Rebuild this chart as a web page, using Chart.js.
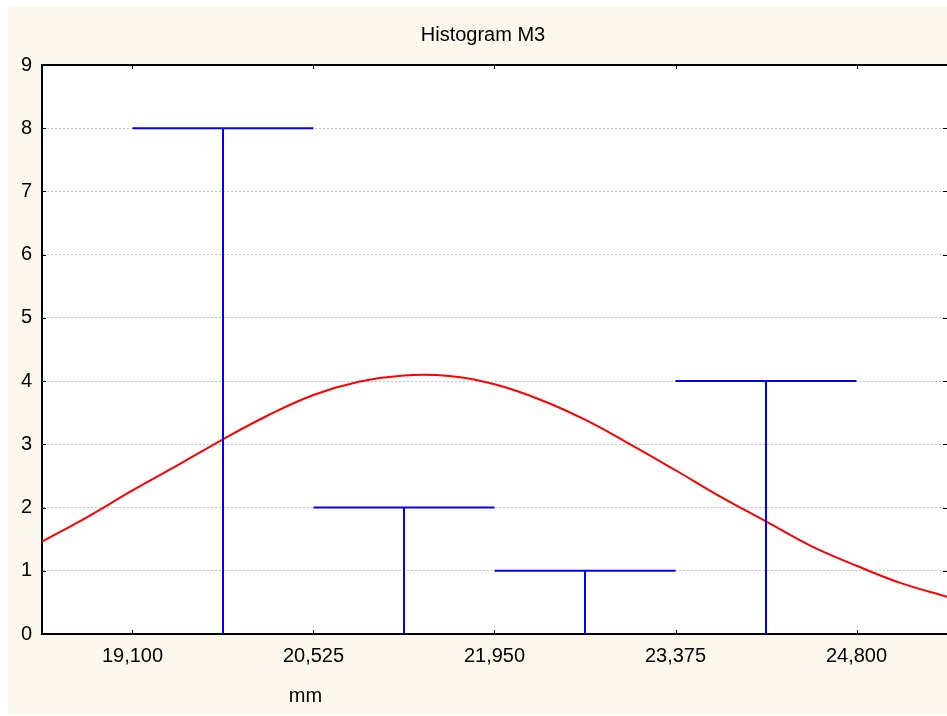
<!DOCTYPE html>
<html>
<head>
<meta charset="utf-8">
<script src="https://cdn.jsdelivr.net/npm/chart.js@4.4.1/dist/chart.umd.min.js"></script>
<style>
  html, body { margin: 0; padding: 0; background: #fff; }
  #wrap { position: relative; width: 947px; height: 716px; }
</style>
</head>
<body>
<div id="wrap"><canvas id="histChart"></canvas></div>
<script>
// histogram bins (mm) and counts
const binStart = [19.1, 20.525, 21.95, 23.375];
const binEnd   = [20.525, 21.95, 23.375, 24.8];
const counts   = [8, 2, 1, 4];

// axis ticks
const xTicks = [19.1, 20.525, 21.95, 23.375, 24.8];
const yTicks = [0, 1, 2, 3, 4, 5, 6, 7, 8, 9];

// expected normal curve
const curveX = [18.3875, 18.74375, 19.1, 19.45625, 19.8125, 20.16875, 20.525, 20.88125,
                21.2375, 21.59375, 21.95, 22.30625, 22.6625, 23.01875, 23.375, 23.73125,
                24.0875, 24.44375, 24.8, 25.15625, 25.5125];
const curveY = [1.46, 1.85, 2.27, 2.67, 3.08, 3.46, 3.78, 3.99,
                4.09, 4.08, 3.95, 3.71, 3.39, 3.00, 2.59, 2.17,
                1.78, 1.39, 1.08, 0.80, 0.59];

const fontFamily = '"Liberation Sans", Arial, sans-serif';
const binWidth = binEnd[0] - binStart[0];

// each bin is drawn as a "T": top bar over the bin + stem at the bin centre
const histPoints = [];
counts.forEach((c, i) => {
    const mid = (binStart[i] + binEnd[i]) / 2;
    histPoints.push({x: binStart[i], y: c}, {x: binEnd[i], y: c}, {x: binEnd[i], y: null});
    histPoints.push({x: mid, y: 0}, {x: mid, y: c}, {x: mid, y: null});
});

const frame = {
    id: 'frame',
    beforeDraw(chart) {
        const {ctx, chartArea: a} = chart;
        ctx.save();
        ctx.fillStyle = '#ffffff';
        ctx.fillRect(0, 0, chart.width, chart.height);
        ctx.fillStyle = '#fcf8ed';
        ctx.fillRect(8, 6, chart.width - 8, chart.height - 7);
        ctx.fillStyle = '#ffffff';
        ctx.fillRect(a.left, a.top, a.right - a.left, a.bottom - a.top);
        ctx.restore();
    },
    afterDraw(chart) {
        const {ctx, chartArea: a, scales} = chart;
        ctx.save();
        // top frame line
        ctx.strokeStyle = '#000';
        ctx.lineWidth = 2;
        ctx.beginPath();
        ctx.moveTo(a.left - 1, a.top);
        ctx.lineTo(a.right, a.top);
        ctx.stroke();

        // inner tick marks on all four sides
        ctx.lineWidth = 1;
        ctx.beginPath();
        xTicks.forEach(v => {
            const px = Math.round(scales.x.getPixelForValue(v)) + 0.5;
            ctx.moveTo(px, a.bottom); ctx.lineTo(px, a.bottom - 4);
            ctx.moveTo(px, a.top); ctx.lineTo(px, a.top + 4);
        });
        yTicks.forEach(v => {
            const py = Math.round(scales.y.getPixelForValue(v)) + 0.5;
            ctx.moveTo(a.left, py); ctx.lineTo(a.left + 4, py);
            ctx.moveTo(a.right, py); ctx.lineTo(a.right - 4, py);
        });
        ctx.stroke();

        // title and axis name
        ctx.fillStyle = '#000';
        ctx.font = '20px ' + fontFamily;
        ctx.textAlign = 'center';
        ctx.textBaseline = 'alphabetic';
        ctx.fillText('Histogram M3', 483, 41);
        ctx.fillText('mm', 305.5, 702);
        ctx.restore();
    }
};

new Chart(document.getElementById('histChart'), {
    type: 'line',
    data: {
        datasets: [{
            data: histPoints,
            borderColor: '#0000ff',
            borderWidth: 2,
            pointRadius: 0,
            tension: 0,
            spanGaps: false
        }, {
            data: curveX.map((x, i) => ({x: x, y: curveY[i]})),
            borderColor: '#ff0000',
            borderWidth: 2,
            pointRadius: 0,
            tension: 0.4
        }]
    },
    options: {
        responsive: true,
        maintainAspectRatio: false,
        animation: false,
        layout: { padding: { top: 65, left: 0, right: 0, bottom: 0 } },
        plugins: {
            legend: { display: false },
            tooltip: { enabled: false },
            title: { display: false }
        },
        scales: {
            x: {
                type: 'linear',
                min: xTicks[0] - binWidth / 2,
                max: xTicks[xTicks.length - 1] + binWidth / 2,
                afterBuildTicks: s => { s.ticks = xTicks.map(v => ({value: v})); },
                afterFit: s => { s.height = 82; },
                grid: { display: false, drawTicks: false },
                border: { color: '#000', width: 2 },
                ticks: {
                    callback: v => v.toFixed(3).replace('.', ','),
                    color: '#000',
                    font: { family: fontFamily, size: 20 },
                    padding: 10,
                    maxRotation: 0,
                    autoSkip: false
                }
            },
            y: {
                min: 0,
                max: 9,
                afterBuildTicks: s => { s.ticks = yTicks.map(v => ({value: v})); },
                afterFit: s => { s.width = 42; },
                grid: { color: '#c4c4c4', lineWidth: 1, drawTicks: false },
                border: { color: '#000', width: 2, dash: [2, 2] },
                ticks: {
                    color: '#000',
                    font: { family: fontFamily, size: 20 },
                    padding: 10
                }
            }
        }
    },
    plugins: [frame]
});
</script>
</body>
</html>
